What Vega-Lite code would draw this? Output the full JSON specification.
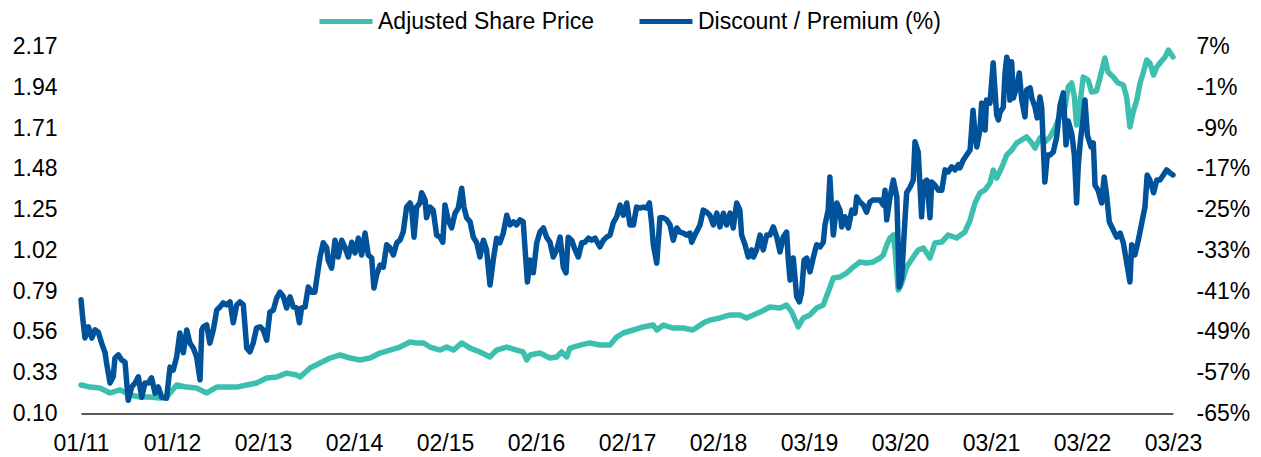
{
  "$schema": "https://vega.github.io/schema/vega-lite/v6.json",
  "width": 1092,
  "height": 367,
  "autosize": {"type": "none"},
  "padding": {"left": 81, "top": 46.5, "right": 88, "bottom": 43.5},
  "background": "white",
  "config": {
    "view": {"stroke": null},
    "font": "Liberation Sans",
    "axis": {"labelFont": "Liberation Sans", "labelFontSize": 23, "labelColor": "#000000", "grid": false, "ticks": false, "tickSize": 0, "title": null, "labelOverlap": false, "labelFlush": false, "labelBound": false},
    "legend": {"labelFont": "Liberation Sans", "labelFontSize": 23, "labelColor": "#000000", "labelLimit": 500, "padding": 0}
  },
  "datasets": {
    "price": [
      {"date": "2011-01-24", "value": 0.261}, {"date": "2011-03-02", "value": 0.249}, {"date": "2011-04-11", "value": 0.244}, {"date": "2011-05-22", "value": 0.216}, {"date": "2011-07-02", "value": 0.233}, {"date": "2011-08-11", "value": 0.204}, {"date": "2011-09-21", "value": 0.193}, {"date": "2011-11-01", "value": 0.193}, {"date": "2011-12-11", "value": 0.187},
      {"date": "2012-01-07", "value": 0.193}, {"date": "2012-02-17", "value": 0.261}, {"date": "2012-03-29", "value": 0.249}, {"date": "2012-05-08", "value": 0.244}, {"date": "2012-06-18", "value": 0.216}, {"date": "2012-07-29", "value": 0.249}, {"date": "2012-09-07", "value": 0.249}, {"date": "2012-10-18", "value": 0.249}, {"date": "2012-11-28", "value": 0.261},
      {"date": "2013-01-07", "value": 0.272}, {"date": "2013-02-17", "value": 0.300}, {"date": "2013-03-30", "value": 0.306}, {"date": "2013-05-09", "value": 0.328}, {"date": "2013-06-19", "value": 0.317}, {"date": "2013-07-03", "value": 0.306}, {"date": "2013-08-12", "value": 0.357}, {"date": "2013-09-22", "value": 0.385}, {"date": "2013-11-02", "value": 0.413}, {"date": "2013-12-12", "value": 0.430},
      {"date": "2014-01-22", "value": 0.413}, {"date": "2014-03-03", "value": 0.402}, {"date": "2014-04-13", "value": 0.413}, {"date": "2014-05-24", "value": 0.441}, {"date": "2014-07-03", "value": 0.458}, {"date": "2014-08-13", "value": 0.475}, {"date": "2014-09-23", "value": 0.503}, {"date": "2014-10-20", "value": 0.498}, {"date": "2014-11-16", "value": 0.498}, {"date": "2014-12-13", "value": 0.475},
      {"date": "2015-01-23", "value": 0.458}, {"date": "2015-02-19", "value": 0.475}, {"date": "2015-03-18", "value": 0.458}, {"date": "2015-04-21", "value": 0.498}, {"date": "2015-05-25", "value": 0.469}, {"date": "2015-07-04", "value": 0.447}, {"date": "2015-08-14", "value": 0.419}, {"date": "2015-09-10", "value": 0.458}, {"date": "2015-10-21", "value": 0.475}, {"date": "2015-11-30", "value": 0.458}, {"date": "2015-12-27", "value": 0.447},
      {"date": "2016-01-10", "value": 0.402}, {"date": "2016-01-24", "value": 0.430}, {"date": "2016-03-04", "value": 0.441}, {"date": "2016-04-14", "value": 0.413}, {"date": "2016-05-11", "value": 0.419}, {"date": "2016-05-31", "value": 0.447}, {"date": "2016-06-21", "value": 0.419}, {"date": "2016-07-04", "value": 0.469}, {"date": "2016-08-14", "value": 0.486}, {"date": "2016-09-23", "value": 0.498}, {"date": "2016-11-03", "value": 0.486}, {"date": "2016-12-14", "value": 0.486},
      {"date": "2017-01-10", "value": 0.531}, {"date": "2017-02-06", "value": 0.554}, {"date": "2017-03-19", "value": 0.571}, {"date": "2017-04-28", "value": 0.588}, {"date": "2017-06-08", "value": 0.599}, {"date": "2017-06-22", "value": 0.571}, {"date": "2017-07-19", "value": 0.599}, {"date": "2017-08-28", "value": 0.582}, {"date": "2017-10-08", "value": 0.582}, {"date": "2017-11-15", "value": 0.571}, {"date": "2017-12-28", "value": 0.610},
      {"date": "2018-01-24", "value": 0.627}, {"date": "2018-03-06", "value": 0.639}, {"date": "2018-04-16", "value": 0.656}, {"date": "2018-05-26", "value": 0.656}, {"date": "2018-06-22", "value": 0.639}, {"date": "2018-07-20", "value": 0.656}, {"date": "2018-08-16", "value": 0.672}, {"date": "2018-09-25", "value": 0.701}, {"date": "2018-11-05", "value": 0.695}, {"date": "2018-12-02", "value": 0.712}, {"date": "2018-12-23", "value": 0.672},
      {"date": "2019-01-18", "value": 0.588}, {"date": "2019-02-08", "value": 0.639}, {"date": "2019-03-07", "value": 0.656}, {"date": "2019-04-03", "value": 0.695}, {"date": "2019-04-30", "value": 0.712}, {"date": "2019-05-20", "value": 0.785}, {"date": "2019-06-10", "value": 0.864}, {"date": "2019-07-07", "value": 0.870}, {"date": "2019-08-03", "value": 0.892}, {"date": "2019-08-30", "value": 0.926}, {"date": "2019-09-26", "value": 0.955}, {"date": "2019-10-23", "value": 0.949}, {"date": "2019-11-19", "value": 0.955}, {"date": "2019-12-17", "value": 0.977}, {"date": "2019-12-30", "value": 0.994},
      {"date": "2020-01-13", "value": 1.050}, {"date": "2020-01-26", "value": 1.090}, {"date": "2020-02-09", "value": 1.107}, {"date": "2020-02-16", "value": 1.022}, {"date": "2020-02-29", "value": 0.797}, {"date": "2020-03-14", "value": 0.836}, {"date": "2020-04-03", "value": 0.926}, {"date": "2020-04-30", "value": 0.983}, {"date": "2020-05-20", "value": 1.022}, {"date": "2020-06-10", "value": 1.033}, {"date": "2020-07-07", "value": 0.977}, {"date": "2020-07-27", "value": 1.062}, {"date": "2020-08-24", "value": 1.067}, {"date": "2020-09-19", "value": 1.107}, {"date": "2020-10-23", "value": 1.090}, {"date": "2020-11-26", "value": 1.124}, {"date": "2020-12-17", "value": 1.191},
      {"date": "2021-01-06", "value": 1.287}, {"date": "2021-01-26", "value": 1.344}, {"date": "2021-02-16", "value": 1.361}, {"date": "2021-03-08", "value": 1.400}, {"date": "2021-03-21", "value": 1.473}, {"date": "2021-04-04", "value": 1.428}, {"date": "2021-04-24", "value": 1.485}, {"date": "2021-05-15", "value": 1.558}, {"date": "2021-06-04", "value": 1.586}, {"date": "2021-06-25", "value": 1.626}, {"date": "2021-07-15", "value": 1.643}, {"date": "2021-08-04", "value": 1.660}, {"date": "2021-08-25", "value": 1.626}, {"date": "2021-09-07", "value": 1.597}, {"date": "2021-09-27", "value": 1.654}, {"date": "2021-10-17", "value": 1.631}, {"date": "2021-11-07", "value": 1.660}, {"date": "2021-11-27", "value": 1.710}, {"date": "2021-12-18", "value": 1.784},
      {"date": "2022-01-07", "value": 1.829}, {"date": "2022-01-20", "value": 1.942}, {"date": "2022-02-03", "value": 1.964}, {"date": "2022-02-14", "value": 1.885}, {"date": "2022-02-23", "value": 1.727}, {"date": "2022-03-09", "value": 1.851}, {"date": "2022-03-22", "value": 1.998}, {"date": "2022-04-11", "value": 1.981}, {"date": "2022-04-25", "value": 1.913}, {"date": "2022-05-15", "value": 1.919}, {"date": "2022-05-29", "value": 1.992}, {"date": "2022-06-18", "value": 2.105}, {"date": "2022-07-01", "value": 2.026}, {"date": "2022-07-22", "value": 1.998}, {"date": "2022-08-11", "value": 1.964}, {"date": "2022-09-01", "value": 1.953}, {"date": "2022-09-15", "value": 1.880}, {"date": "2022-09-28", "value": 1.716}, {"date": "2022-10-11", "value": 1.801}, {"date": "2022-10-26", "value": 1.868}, {"date": "2022-11-08", "value": 1.964}, {"date": "2022-11-21", "value": 2.021}, {"date": "2022-12-05", "value": 2.094}, {"date": "2022-12-18", "value": 2.077},
      {"date": "2023-01-02", "value": 2.009}, {"date": "2023-01-15", "value": 2.054}, {"date": "2023-01-28", "value": 2.077}, {"date": "2023-02-18", "value": 2.111}, {"date": "2023-03-03", "value": 2.150}, {"date": "2023-03-22", "value": 2.111}
    ],
    "disc": [
      {"date": "2011-01-24", "pct": -42.7}, {"date": "2011-02-01", "pct": -46.7}, {"date": "2011-02-09", "pct": -50.2}, {"date": "2011-02-23", "pct": -48.0}, {"date": "2011-03-09", "pct": -50.2}, {"date": "2011-03-22", "pct": -48.6}, {"date": "2011-04-04", "pct": -49.0}, {"date": "2011-04-18", "pct": -51.2}, {"date": "2011-05-02", "pct": -53.1}, {"date": "2011-05-08", "pct": -55.1}, {"date": "2011-05-22", "pct": -59.0}, {"date": "2011-06-04", "pct": -57.8}, {"date": "2011-06-11", "pct": -54.1}, {"date": "2011-06-25", "pct": -53.5}, {"date": "2011-07-08", "pct": -54.5}, {"date": "2011-07-22", "pct": -54.9}, {"date": "2011-08-04", "pct": -62.4}, {"date": "2011-08-18", "pct": -59.8}, {"date": "2011-09-01", "pct": -59.0}, {"date": "2011-09-14", "pct": -57.8}, {"date": "2011-09-28", "pct": -61.8}, {"date": "2011-10-11", "pct": -59.0}, {"date": "2011-10-25", "pct": -59.0}, {"date": "2011-11-07", "pct": -58.0}, {"date": "2011-11-21", "pct": -61.0}, {"date": "2011-12-04", "pct": -59.8}, {"date": "2011-12-18", "pct": -61.8},
      {"date": "2012-01-07", "pct": -62.0}, {"date": "2012-01-21", "pct": -55.9}, {"date": "2012-02-03", "pct": -56.5}, {"date": "2012-02-17", "pct": -53.9}, {"date": "2012-03-01", "pct": -49.2}, {"date": "2012-03-15", "pct": -53.1}, {"date": "2012-03-29", "pct": -48.6}, {"date": "2012-04-11", "pct": -51.2}, {"date": "2012-04-25", "pct": -52.2}, {"date": "2012-05-08", "pct": -53.9}, {"date": "2012-05-22", "pct": -58.4}, {"date": "2012-05-29", "pct": -48.6}, {"date": "2012-06-04", "pct": -48.0}, {"date": "2012-06-18", "pct": -47.6}, {"date": "2012-07-01", "pct": -51.2}, {"date": "2012-07-15", "pct": -48.6}, {"date": "2012-07-29", "pct": -44.7}, {"date": "2012-08-11", "pct": -44.1}, {"date": "2012-08-24", "pct": -43.3}, {"date": "2012-09-07", "pct": -43.7}, {"date": "2012-09-21", "pct": -43.1}, {"date": "2012-10-04", "pct": -47.2}, {"date": "2012-10-18", "pct": -43.7}, {"date": "2012-10-31", "pct": -43.1}, {"date": "2012-11-14", "pct": -43.7}, {"date": "2012-11-28", "pct": -52.2}, {"date": "2012-12-11", "pct": -52.9}, {"date": "2012-12-24", "pct": -51.2},
      {"date": "2013-01-07", "pct": -48.2}, {"date": "2013-01-21", "pct": -48.0}, {"date": "2013-02-03", "pct": -48.6}, {"date": "2013-02-17", "pct": -50.6}, {"date": "2013-03-02", "pct": -45.1}, {"date": "2013-03-16", "pct": -44.7}, {"date": "2013-03-30", "pct": -42.3}, {"date": "2013-04-12", "pct": -41.2}, {"date": "2013-04-26", "pct": -42.1}, {"date": "2013-05-09", "pct": -44.3}, {"date": "2013-05-23", "pct": -42.1}, {"date": "2013-06-05", "pct": -44.1}, {"date": "2013-06-19", "pct": -44.3}, {"date": "2013-06-30", "pct": -47.2}, {"date": "2013-07-09", "pct": -44.3}, {"date": "2013-07-23", "pct": -44.1}, {"date": "2013-08-05", "pct": -40.2}, {"date": "2013-08-19", "pct": -41.2}, {"date": "2013-09-01", "pct": -41.2}, {"date": "2013-09-08", "pct": -38.8}, {"date": "2013-09-22", "pct": -34.3}, {"date": "2013-10-05", "pct": -31.5}, {"date": "2013-10-19", "pct": -32.5}, {"date": "2013-10-25", "pct": -34.9}, {"date": "2013-11-08", "pct": -36.5}, {"date": "2013-11-22", "pct": -31.0}, {"date": "2013-12-05", "pct": -34.3}, {"date": "2013-12-19", "pct": -31.0},
      {"date": "2014-01-02", "pct": -32.5}, {"date": "2014-01-15", "pct": -34.3}, {"date": "2014-01-29", "pct": -31.4}, {"date": "2014-02-11", "pct": -33.5}, {"date": "2014-02-25", "pct": -30.6}, {"date": "2014-03-10", "pct": -33.9}, {"date": "2014-03-24", "pct": -29.6}, {"date": "2014-04-06", "pct": -33.9}, {"date": "2014-04-20", "pct": -34.5}, {"date": "2014-04-29", "pct": -40.4}, {"date": "2014-05-10", "pct": -37.8}, {"date": "2014-05-24", "pct": -35.9}, {"date": "2014-06-06", "pct": -36.3}, {"date": "2014-06-20", "pct": -31.9}, {"date": "2014-07-03", "pct": -32.5}, {"date": "2014-07-17", "pct": -33.9}, {"date": "2014-07-31", "pct": -31.5}, {"date": "2014-08-13", "pct": -31.0}, {"date": "2014-08-26", "pct": -29.4}, {"date": "2014-09-09", "pct": -24.5}, {"date": "2014-09-23", "pct": -23.7}, {"date": "2014-09-29", "pct": -24.5}, {"date": "2014-10-09", "pct": -30.4}, {"date": "2014-10-20", "pct": -24.5}, {"date": "2014-11-02", "pct": -23.7}, {"date": "2014-11-09", "pct": -21.7}, {"date": "2014-11-23", "pct": -23.1}, {"date": "2014-11-29", "pct": -26.6}, {"date": "2014-12-13", "pct": -24.5}, {"date": "2014-12-26", "pct": -25.1},
      {"date": "2015-01-09", "pct": -30.0}, {"date": "2015-01-23", "pct": -30.4}, {"date": "2015-02-03", "pct": -31.4}, {"date": "2015-02-12", "pct": -24.1}, {"date": "2015-02-25", "pct": -27.0}, {"date": "2015-03-11", "pct": -28.6}, {"date": "2015-03-25", "pct": -25.7}, {"date": "2015-04-07", "pct": -24.7}, {"date": "2015-04-21", "pct": -20.8}, {"date": "2015-04-30", "pct": -24.5}, {"date": "2015-05-11", "pct": -26.6}, {"date": "2015-05-25", "pct": -27.4}, {"date": "2015-06-07", "pct": -30.4}, {"date": "2015-06-21", "pct": -31.5}, {"date": "2015-07-04", "pct": -34.3}, {"date": "2015-07-18", "pct": -31.0}, {"date": "2015-07-31", "pct": -32.9}, {"date": "2015-08-14", "pct": -39.8}, {"date": "2015-08-27", "pct": -34.9}, {"date": "2015-09-10", "pct": -30.6}, {"date": "2015-09-23", "pct": -31.5}, {"date": "2015-10-07", "pct": -29.6}, {"date": "2015-10-21", "pct": -26.1}, {"date": "2015-11-03", "pct": -28.0}, {"date": "2015-11-17", "pct": -27.4}, {"date": "2015-11-30", "pct": -28.0}, {"date": "2015-12-14", "pct": -27.0}, {"date": "2015-12-27", "pct": -27.4},
      {"date": "2016-01-03", "pct": -32.3}, {"date": "2016-01-13", "pct": -39.2}, {"date": "2016-01-24", "pct": -34.9}, {"date": "2016-02-06", "pct": -37.4}, {"date": "2016-02-20", "pct": -31.5}, {"date": "2016-03-04", "pct": -29.4}, {"date": "2016-03-18", "pct": -28.6}, {"date": "2016-03-31", "pct": -30.4}, {"date": "2016-04-14", "pct": -31.4}, {"date": "2016-04-27", "pct": -34.3}, {"date": "2016-05-11", "pct": -32.9}, {"date": "2016-05-25", "pct": -30.4}, {"date": "2016-06-07", "pct": -36.3}, {"date": "2016-06-18", "pct": -37.4}, {"date": "2016-06-27", "pct": -30.4}, {"date": "2016-07-11", "pct": -31.0}, {"date": "2016-07-25", "pct": -32.9}, {"date": "2016-08-07", "pct": -34.3}, {"date": "2016-08-21", "pct": -31.5}, {"date": "2016-09-03", "pct": -31.4}, {"date": "2016-09-17", "pct": -30.6}, {"date": "2016-09-30", "pct": -31.0}, {"date": "2016-10-14", "pct": -30.6}, {"date": "2016-11-03", "pct": -32.3}, {"date": "2016-11-17", "pct": -31.0}, {"date": "2016-11-30", "pct": -30.4}, {"date": "2016-12-14", "pct": -30.0}, {"date": "2016-12-27", "pct": -27.6},
      {"date": "2017-01-10", "pct": -26.4}, {"date": "2017-01-24", "pct": -24.1}, {"date": "2017-02-06", "pct": -26.1}, {"date": "2017-02-20", "pct": -23.7}, {"date": "2017-03-05", "pct": -28.0}, {"date": "2017-03-19", "pct": -28.0}, {"date": "2017-04-01", "pct": -24.5}, {"date": "2017-04-15", "pct": -24.7}, {"date": "2017-04-28", "pct": -24.5}, {"date": "2017-05-12", "pct": -24.7}, {"date": "2017-05-23", "pct": -23.7}, {"date": "2017-06-01", "pct": -27.6}, {"date": "2017-06-08", "pct": -31.9}, {"date": "2017-06-22", "pct": -35.5}, {"date": "2017-07-05", "pct": -26.6}, {"date": "2017-07-19", "pct": -26.6}, {"date": "2017-08-01", "pct": -27.0}, {"date": "2017-08-15", "pct": -28.0}, {"date": "2017-08-28", "pct": -31.0}, {"date": "2017-09-11", "pct": -28.6}, {"date": "2017-09-24", "pct": -29.4}, {"date": "2017-10-08", "pct": -29.6}, {"date": "2017-10-22", "pct": -30.0}, {"date": "2017-11-04", "pct": -29.6}, {"date": "2017-11-11", "pct": -31.4}, {"date": "2017-11-24", "pct": -30.0}, {"date": "2017-12-15", "pct": -28.0}, {"date": "2017-12-28", "pct": -25.1},
      {"date": "2018-01-11", "pct": -25.5}, {"date": "2018-01-24", "pct": -26.1}, {"date": "2018-02-07", "pct": -28.0}, {"date": "2018-02-21", "pct": -25.7}, {"date": "2018-03-06", "pct": -28.4}, {"date": "2018-03-20", "pct": -25.7}, {"date": "2018-04-02", "pct": -28.0}, {"date": "2018-04-16", "pct": -25.7}, {"date": "2018-04-29", "pct": -28.6}, {"date": "2018-05-13", "pct": -23.7}, {"date": "2018-05-26", "pct": -25.1}, {"date": "2018-06-02", "pct": -30.0}, {"date": "2018-06-16", "pct": -31.9}, {"date": "2018-06-29", "pct": -34.3}, {"date": "2018-07-13", "pct": -32.9}, {"date": "2018-07-20", "pct": -34.3}, {"date": "2018-08-02", "pct": -32.9}, {"date": "2018-08-16", "pct": -30.0}, {"date": "2018-08-29", "pct": -32.9}, {"date": "2018-09-12", "pct": -30.0}, {"date": "2018-09-25", "pct": -30.0}, {"date": "2018-10-09", "pct": -28.4}, {"date": "2018-10-23", "pct": -30.4}, {"date": "2018-11-05", "pct": -33.3}, {"date": "2018-11-18", "pct": -30.4}, {"date": "2018-12-02", "pct": -29.4}, {"date": "2018-12-09", "pct": -34.9}, {"date": "2018-12-16", "pct": -38.8}, {"date": "2018-12-29", "pct": -34.5},
      {"date": "2019-01-12", "pct": -42.1}, {"date": "2019-01-23", "pct": -43.1}, {"date": "2019-02-01", "pct": -41.2}, {"date": "2019-02-11", "pct": -34.9}, {"date": "2019-02-22", "pct": -34.5}, {"date": "2019-03-07", "pct": -37.2}, {"date": "2019-03-21", "pct": -34.3}, {"date": "2019-04-03", "pct": -31.9}, {"date": "2019-04-17", "pct": -32.3}, {"date": "2019-04-30", "pct": -31.4}, {"date": "2019-05-07", "pct": -28.0}, {"date": "2019-05-20", "pct": -25.1}, {"date": "2019-05-27", "pct": -18.6}, {"date": "2019-06-03", "pct": -25.1}, {"date": "2019-06-10", "pct": -30.0}, {"date": "2019-06-24", "pct": -23.7}, {"date": "2019-07-07", "pct": -25.1}, {"date": "2019-07-14", "pct": -28.4}, {"date": "2019-07-27", "pct": -26.4}, {"date": "2019-08-10", "pct": -28.6}, {"date": "2019-08-24", "pct": -25.1}, {"date": "2019-09-06", "pct": -25.7}, {"date": "2019-09-13", "pct": -22.5}, {"date": "2019-09-26", "pct": -23.5}, {"date": "2019-10-10", "pct": -24.1}, {"date": "2019-10-23", "pct": -25.5}, {"date": "2019-11-06", "pct": -23.5}, {"date": "2019-11-19", "pct": -23.1}, {"date": "2019-12-03", "pct": -23.1}, {"date": "2019-12-17", "pct": -23.1}, {"date": "2019-12-30", "pct": -24.1},
      {"date": "2020-01-06", "pct": -21.2}, {"date": "2020-01-13", "pct": -27.0}, {"date": "2020-01-26", "pct": -22.7}, {"date": "2020-02-09", "pct": -19.2}, {"date": "2020-02-23", "pct": -22.5}, {"date": "2020-03-04", "pct": -40.2}, {"date": "2020-03-14", "pct": -38.4}, {"date": "2020-03-23", "pct": -30.4}, {"date": "2020-04-03", "pct": -21.7}, {"date": "2020-04-17", "pct": -20.6}, {"date": "2020-04-30", "pct": -19.2}, {"date": "2020-05-07", "pct": -11.7}, {"date": "2020-05-20", "pct": -13.7}, {"date": "2020-06-03", "pct": -26.4}, {"date": "2020-06-10", "pct": -19.8}, {"date": "2020-06-24", "pct": -19.2}, {"date": "2020-07-07", "pct": -26.6}, {"date": "2020-07-14", "pct": -19.6}, {"date": "2020-07-27", "pct": -20.2}, {"date": "2020-08-10", "pct": -21.2}, {"date": "2020-08-24", "pct": -21.2}, {"date": "2020-09-06", "pct": -17.2}, {"date": "2020-09-19", "pct": -17.6}, {"date": "2020-10-03", "pct": -16.6}, {"date": "2020-10-17", "pct": -17.2}, {"date": "2020-10-30", "pct": -16.2}, {"date": "2020-11-06", "pct": -16.8}, {"date": "2020-11-19", "pct": -15.3}, {"date": "2020-12-03", "pct": -14.3}, {"date": "2020-12-17", "pct": -13.3}, {"date": "2020-12-29", "pct": -5.5},
      {"date": "2021-01-06", "pct": -10.0}, {"date": "2021-01-13", "pct": -12.7}, {"date": "2021-01-26", "pct": -9.4}, {"date": "2021-02-02", "pct": -4.1}, {"date": "2021-02-16", "pct": -9.4}, {"date": "2021-02-22", "pct": -3.5}, {"date": "2021-03-08", "pct": -4.1}, {"date": "2021-03-21", "pct": 3.8}, {"date": "2021-03-28", "pct": -1.5}, {"date": "2021-04-04", "pct": -6.4}, {"date": "2021-04-11", "pct": -7.4}, {"date": "2021-04-18", "pct": -5.9}, {"date": "2021-05-01", "pct": -4.9}, {"date": "2021-05-08", "pct": 1.8}, {"date": "2021-05-15", "pct": 4.9}, {"date": "2021-05-21", "pct": 3.8}, {"date": "2021-05-28", "pct": -3.5}, {"date": "2021-06-04", "pct": 4.0}, {"date": "2021-06-11", "pct": -3.1}, {"date": "2021-06-25", "pct": -0.9}, {"date": "2021-07-05", "pct": 1.8}, {"date": "2021-07-15", "pct": -3.5}, {"date": "2021-07-28", "pct": -6.8}, {"date": "2021-08-04", "pct": -1.5}, {"date": "2021-08-18", "pct": -1.1}, {"date": "2021-08-25", "pct": -3.1}, {"date": "2021-09-07", "pct": -4.9}, {"date": "2021-09-16", "pct": -7.0}, {"date": "2021-09-27", "pct": -2.9}, {"date": "2021-10-04", "pct": -4.9}, {"date": "2021-10-17", "pct": -19.6}, {"date": "2021-10-27", "pct": -14.3}, {"date": "2021-11-07", "pct": -14.3}, {"date": "2021-11-20", "pct": -13.7}, {"date": "2021-12-04", "pct": -10.8}, {"date": "2021-12-18", "pct": -4.5}, {"date": "2021-12-31", "pct": -2.1},
      {"date": "2022-01-11", "pct": -12.3}, {"date": "2022-01-20", "pct": -7.6}, {"date": "2022-02-03", "pct": -10.0}, {"date": "2022-02-14", "pct": -14.3}, {"date": "2022-02-23", "pct": -23.7}, {"date": "2022-03-02", "pct": -16.2}, {"date": "2022-03-11", "pct": -11.3}, {"date": "2022-03-23", "pct": -6.4}, {"date": "2022-03-29", "pct": -3.5}, {"date": "2022-04-08", "pct": -10.4}, {"date": "2022-04-23", "pct": -12.7}, {"date": "2022-05-02", "pct": -11.9}, {"date": "2022-05-09", "pct": -20.2}, {"date": "2022-05-22", "pct": -21.3}, {"date": "2022-06-05", "pct": -23.7}, {"date": "2022-06-15", "pct": -18.6}, {"date": "2022-06-25", "pct": -22.1}, {"date": "2022-07-06", "pct": -27.4}, {"date": "2022-07-22", "pct": -29.0}, {"date": "2022-08-05", "pct": -30.4}, {"date": "2022-08-19", "pct": -29.6}, {"date": "2022-09-01", "pct": -31.5}, {"date": "2022-09-15", "pct": -35.5}, {"date": "2022-09-28", "pct": -39.2}, {"date": "2022-10-05", "pct": -31.9}, {"date": "2022-10-18", "pct": -33.9}, {"date": "2022-11-01", "pct": -31.0}, {"date": "2022-11-15", "pct": -27.6}, {"date": "2022-11-28", "pct": -24.5}, {"date": "2022-12-07", "pct": -18.2}, {"date": "2022-12-18", "pct": -19.2},
      {"date": "2023-01-02", "pct": -21.7}, {"date": "2023-01-15", "pct": -19.2}, {"date": "2023-01-28", "pct": -19.2}, {"date": "2023-02-11", "pct": -18.2}, {"date": "2023-02-24", "pct": -17.2}, {"date": "2023-03-10", "pct": -17.8}, {"date": "2023-03-22", "pct": -18.2}
    ]
  },
  "layer": [
    {
      "data": {"name": "price"},
      "mark": {"type": "line", "strokeWidth": 5.5, "strokeJoin": "round", "strokeCap": "round"},
      "encoding": {
        "x": {
          "field": "date", "type": "temporal",
          "scale": {"type": "utc", "domain": [{"year": 2011, "month": 1, "date": 24, "utc": true}, {"year": 2023, "month": 3, "date": 22, "utc": true}], "nice": false},
          "axis": {
            "values": [
              {"year": 2011, "month": 1, "date": 24, "utc": true}, {"year": 2012, "month": 1, "date": 29, "utc": true}, {"year": 2013, "month": 2, "date": 2, "utc": true}, {"year": 2014, "month": 2, "date": 7, "utc": true}, {"year": 2015, "month": 2, "date": 12, "utc": true}, {"year": 2016, "month": 2, "date": 17, "utc": true}, {"year": 2017, "month": 2, "date": 21, "utc": true}, {"year": 2018, "month": 2, "date": 26, "utc": true}, {"year": 2019, "month": 3, "date": 3, "utc": true}, {"year": 2020, "month": 3, "date": 7, "utc": true}, {"year": 2021, "month": 3, "date": 12, "utc": true}, {"year": 2022, "month": 3, "date": 17, "utc": true}, {"year": 2023, "month": 3, "date": 22, "utc": true}
            ],
            "labelExpr": "utcFormat(datum.value, '%m/%y')",
            "labelPadding": 19,
            "domainColor": "#595959",
            "domainWidth": 2,
            "labelAlign": "center"
          }
        },
        "y": {
          "field": "value", "type": "quantitative",
          "scale": {"domain": [0.10, 2.17], "nice": false, "zero": false},
          "axis": {"orient": "left", "values": [0.10, 0.33, 0.56, 0.79, 1.02, 1.25, 1.48, 1.71, 1.94, 2.17], "format": ".2f", "domain": false, "labelPadding": 24}
        },
        "color": {
          "datum": "Adjusted Share Price", "type": "nominal",
          "scale": {"domain": ["Adjusted Share Price", "Discount / Premium (%)"], "range": ["#3dbfb0", "#00539b"]},
          "legend": {"orient": "none", "legendX": 236, "legendY": -54, "direction": "horizontal", "title": null, "symbolType": "stroke", "symbolSize": 2809, "symbolStrokeWidth": 5, "labelOffset": 3, "columnPadding": 34, "labelFontSize": 23}
        }
      }
    },
    {
      "data": {"name": "disc"},
      "mark": {"type": "line", "strokeWidth": 5.5, "strokeJoin": "round", "strokeCap": "round"},
      "encoding": {
        "x": {"field": "date", "type": "temporal"},
        "y": {
          "field": "pct", "type": "quantitative",
          "scale": {"domain": [-65, 7], "nice": false, "zero": false},
          "axis": {"orient": "right", "values": [-65, -57, -49, -41, -33, -25, -17, -9, -1, 7], "labelExpr": "datum.value + '%'", "domain": false, "labelPadding": 23}
        },
        "color": {"datum": "Discount / Premium (%)", "type": "nominal"}
      }
    }
  ],
  "resolve": {"scale": {"y": "independent"}}
}
